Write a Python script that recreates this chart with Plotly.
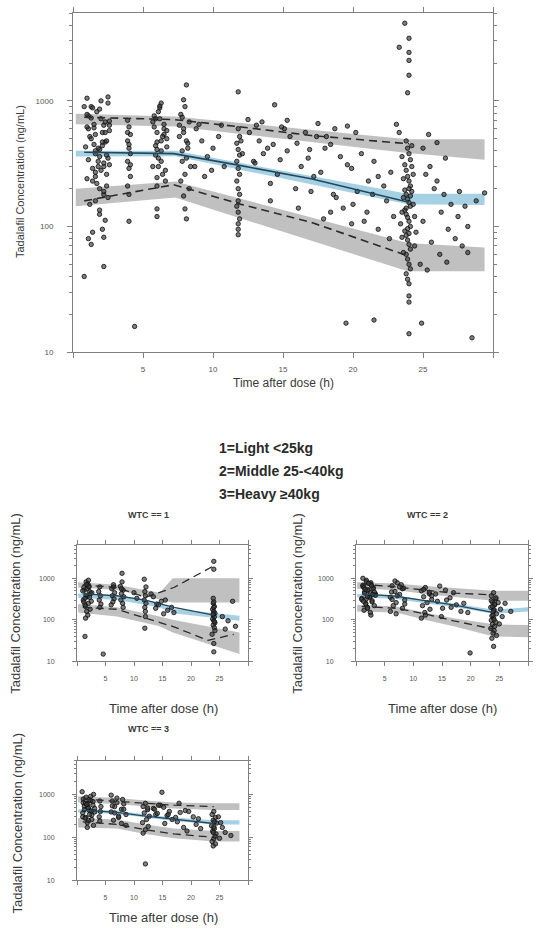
import plotly.graph_objects as go

# ---------------------------------------------------------------------------
# Observed tadalafil concentrations (time after dose in h, concentration ng/mL)
# ---------------------------------------------------------------------------
all_obs = [
    # ~1-2.5 h
    (1.7, 820), (2.2, 640), (1.2, 520), (1.9, 410), (2.5, 350), (1.4, 290), (2.0, 720), (1.1, 600),
    (2.3, 470), (1.6, 380), (1.8, 330), (2.4, 260), (1.3, 900), (2.1, 560), (1.5, 450), (2.6, 310),
    (1.0, 240), (1.9, 200), (2.2, 180), (1.6, 160), (1.7, 220), (2.2, 190), (1.2, 150), (1.9, 135),
    (2.5, 960), (1.4, 880), (2.0, 1000), (1.1, 760), (2.3, 680), (1.6, 540), (1.8, 420), (2.4, 370),
    (1.3, 500), (2.1, 440), (1.5, 610), (2.6, 690), (1.0, 780), (1.9, 860), (2.2, 300), (1.6, 250),
    (1.9, 125), (2.3, 112), (2.1, 95), (2.2, 82), (1.3, 72), (1.1, 80), (1.4, 90), (2.2, 48), (0.8, 40),
    (2.5, 170), (1.4, 230), (2.0, 280), (0.8, 900), (0.9, 430), (2.6, 640), (2.4, 480), (1.1, 340),
    (2.3, 560), (1.6, 400), (1.8, 300), (2.4, 210), (1.0, 1050), (2.5, 1075), (1.3, 730), (2.1, 470),
    (1.5, 650), (2.6, 580), (1.0, 620), (1.9, 360), (2.2, 320), (1.6, 270),
    # ~4 h
    (3.9, 700), (4.0, 620), (4.1, 540), (3.9, 480), (4.0, 420), (4.1, 380), (3.9, 330), (4.0, 290),
    (4.1, 250), (3.9, 210), (4.0, 180), (4.0, 450), (3.9, 560), (4.1, 310), (4.0, 110),
    # ~6 h
    (6.2, 880), (5.8, 760), (6.5, 650), (6.0, 560), (6.7, 500), (5.9, 440), (6.3, 400), (6.1, 350),
    (5.7, 300), (6.4, 260), (6.6, 230), (6.0, 210), (6.2, 720), (5.8, 620), (6.5, 540), (6.0, 470),
    (6.7, 430), (5.9, 370), (6.3, 330), (6.1, 820), (5.7, 680), (6.4, 520), (6.6, 280), (6.0, 245),
    (6.2, 910), (6.0, 138), (6.0, 120), (6.5, 600), (6.0, 410), (6.3, 960), (6.7, 580), (5.9, 720),
    (6.3, 480), (6.1, 300),
    # ~8 h
    (8.0, 900), (7.7, 780), (8.3, 680), (7.9, 600), (7.6, 520), (8.2, 460), (7.8, 400), (8.1, 350),
    (8.4, 300), (8.0, 260), (7.7, 230), (8.3, 200), (7.9, 560), (7.6, 640), (8.2, 420), (7.8, 740),
    (7.9, 1020), (8.1, 1340), (8.0, 138), (8.1, 115), (7.8, 330), (8.1, 480), (7.9, 175),
    (8.8, 600), (9.2, 480), (9.6, 360), (10.0, 420), (10.4, 520), (10.8, 300), (9.0, 650), (9.9, 280),
    (10.6, 640), (8.7, 300), (9.4, 250),
    # ~12 h
    (11.8, 600), (11.9, 520), (11.7, 460), (11.8, 410), (11.9, 370), (11.7, 330), (11.8, 290),
    (11.9, 260), (11.7, 230), (11.8, 200), (11.9, 180), (11.8, 160), (11.7, 145), (11.8, 130),
    (11.9, 115), (11.8, 105), (11.8, 95), (11.8, 86), (11.8, 1180), (12.0, 480), (12.1, 380),
    # 12.5-23 h
    (12.6, 560), (13.9, 420), (12.9, 330), (14.6, 260), (13.3, 480), (15.1, 600), (13.6, 380),
    (16.3, 300), (14.1, 220), (15.5, 520), (16.9, 410), (14.8, 340), (17.7, 270), (15.9, 200),
    (18.4, 450), (16.6, 560), (19.1, 360), (17.2, 250), (20.3, 190), (18.0, 420), (19.6, 310),
    (17.4, 520), (21.1, 230), (18.8, 170), (20.6, 380), (19.9, 290), (16.0, 460), (22.2, 210),
    (21.5, 330), (20.0, 150), (22.7, 270), (15.3, 400), (18.6, 180), (21.8, 250), (13.0, 320),
    (19.3, 140), (21.0, 130), (22.4, 160), (20.8, 110), (22.9, 120), (14.4, 930), (12.5, 710),
    (19.6, 630), (18.7, 600), (17.9, 115), (18.4, 130), (13.1, 640), (15.3, 700), (17.5, 660),
    (20.2, 560), (18.1, 520), (14.1, 160), (16.1, 140), (19.9, 105), (21.8, 95), (22.6, 80),
    (13.5, 680), (14.9, 620), (16.8, 350), (14.3, 450), (17.0, 190), (21.4, 180),
    # ~24 h
    (23.8, 480), (23.9, 420), (24.0, 380), (24.1, 340), (23.7, 310), (23.8, 280), (23.9, 250),
    (24.0, 230), (24.1, 210), (23.7, 195), (23.8, 180), (23.9, 165), (24.0, 155), (24.1, 145),
    (23.7, 135), (23.8, 125), (23.9, 118), (24.0, 110), (24.1, 100), (23.7, 92), (23.8, 85),
    (23.9, 78), (24.0, 72), (24.1, 66), (23.8, 60), (23.9, 55), (24.0, 50), (24.1, 46), (23.8, 42),
    (23.9, 38), (24.0, 35), (24.2, 300), (24.3, 260), (23.6, 240), (24.2, 190), (23.6, 170),
    (24.3, 150), (23.5, 130), (24.4, 120), (23.4, 105), (24.5, 90), (23.5, 82), (24.4, 70),
    (23.6, 62), (23.7, 4150), (24.0, 3150), (24.0, 2430), (24.0, 2100), (24.0, 1600), (23.9, 1160),
    (23.3, 2670), (23.1, 650), (23.3, 560), (24.0, 28), (24.0, 25), (24.2, 440), (23.5, 360),
    (24.0, 200), (23.8, 140), (24.1, 175), (23.9, 96), (24.0, 88),
    # 24.5-29.5 h
    (25.0, 420), (25.5, 300), (26.0, 230), (26.5, 180), (27.0, 150), (27.5, 120), (28.0, 145),
    (28.2, 100), (25.2, 260), (25.8, 200), (26.3, 130), (26.8, 95), (27.3, 80), (27.8, 70),
    (25.4, 540), (26.6, 350), (27.6, 190), (28.8, 160), (25.0, 110), (25.6, 75), (26.2, 60),
    (29.4, 185), (28.2, 62), (24.8, 50), (25.3, 45), (26.0, 465), (26.7, 52),
    # low values
    (4.4, 16), (19.5, 17), (21.5, 18), (24.0, 14), (24.9, 17), (28.5, 13),
]

wtc1_obs = [
    (1.6, 820), (2.1, 650), (1.3, 520), (2.4, 430), (1.8, 360), (1.1, 300), (2.0, 250), (1.5, 210),
    (2.3, 180), (1.7, 160), (1.9, 740), (1.2, 600), (2.2, 480), (1.6, 390), (1.4, 330), (2.5, 280),
    (1.8, 560), (2.0, 900), (1.4, 230), (1.9, 130), (1.4, 40), (1.7, 700), (2.2, 350), (1.5, 110),
    (2.6, 450), (1.2, 270), (2.1, 620), (1.0, 500),
    (4.0, 620), (3.8, 480), (4.1, 380), (3.9, 300), (4.2, 240), (4.0, 200), (4.6, 15),
    (6.4, 700), (6.1, 560), (6.6, 450), (6.2, 380), (6.5, 320), (6.3, 270), (6.0, 230), (6.4, 620),
    (7.9, 820), (7.6, 640), (8.1, 520), (7.8, 430), (8.2, 360), (7.7, 300), (8.0, 250), (7.9, 1320),
    (7.8, 560), (8.1, 200), (10.0, 450), (10.5, 330),
    (11.8, 950), (12.1, 620), (11.9, 480), (12.0, 380), (11.8, 300), (12.1, 250), (11.9, 200),
    (12.0, 160), (11.9, 63), (12.0, 120),
    (13.0, 420), (15.5, 300), (14.0, 240), (13.4, 360), (16.6, 200), (14.8, 280), (15.9, 170),
    (14.3, 230), (17.0, 150), (13.8, 190), (15.2, 140),
    (23.9, 250), (24.1, 210), (23.8, 180), (24.0, 160), (24.2, 145), (23.9, 130), (24.1, 118),
    (23.8, 105), (24.0, 95), (24.2, 85), (23.9, 75), (24.1, 65), (24.0, 2560), (24.0, 1650),
    (23.9, 330), (24.0, 270), (24.0, 27), (24.0, 17), (24.2, 55), (23.7, 45), (24.0, 200),
    (23.9, 140), (24.1, 90),
    (25.5, 120), (26.5, 95), (27.3, 280), (27.8, 70), (26.0, 60),
]

wtc2_obs = [
    (1.8, 900), (2.6, 780), (1.2, 680), (3.0, 600), (2.1, 530), (1.5, 470), (3.4, 420), (2.4, 370),
    (1.0, 330), (2.8, 290), (1.7, 250), (3.2, 220), (2.0, 200), (1.4, 170), (2.5, 150), (1.8, 820),
    (2.6, 720), (1.2, 640), (3.0, 560), (2.1, 500), (1.5, 440), (3.4, 390), (2.4, 350), (1.0, 310),
    (2.8, 270), (1.7, 240), (3.2, 470), (2.0, 190), (1.4, 600), (2.5, 450), (1.8, 320), (2.6, 130),
    (1.2, 1000), (2.2, 760), (1.6, 540), (2.9, 410), (1.3, 280), (2.7, 660), (2.0, 360),
    (7.2, 780), (6.3, 660), (8.1, 560), (6.8, 480), (7.6, 410), (6.0, 350), (8.5, 300), (7.0, 260),
    (6.5, 220), (7.9, 700), (8.3, 580), (6.2, 470), (7.2, 380), (6.3, 310), (8.1, 190), (6.8, 860),
    (7.6, 620), (6.0, 160), (8.5, 240), (7.0, 140),
    (12.1, 600), (11.4, 500), (12.8, 420), (11.8, 360), (13.2, 310), (12.4, 260), (11.6, 220),
    (12.9, 180), (12.0, 150), (12.1, 130), (11.4, 110), (12.8, 460), (11.8, 540), (13.2, 380),
    (15.6, 520), (13.9, 420), (16.4, 340), (14.2, 280), (17.5, 230), (15.1, 190), (18.3, 160),
    (14.6, 650), (17.0, 450), (15.8, 300), (18.8, 250), (16.6, 200), (19.5, 150), (14.9, 120),
    (19.9, 16),
    (24.0, 450), (23.6, 380), (24.4, 320), (23.8, 270), (24.2, 230), (23.5, 200), (24.1, 175),
    (23.9, 155), (24.5, 140), (23.7, 125), (24.0, 110), (23.6, 98), (24.4, 88), (23.8, 78),
    (24.2, 70), (23.5, 62), (24.1, 55), (23.9, 48), (24.5, 42), (23.7, 36), (24.0, 23), (23.6, 290),
    (24.4, 340), (23.8, 210), (24.0, 165), (24.2, 240), (23.9, 130), (24.1, 100),
    (24.8, 260), (25.2, 180), (25.5, 120), (25.0, 80), (26.0, 250), (27.0, 160),
]

wtc3_obs = [
    (0.9, 1150), (2.4, 900), (1.1, 780), (2.8, 680), (1.9, 600), (1.3, 530), (3.1, 470), (2.2, 420),
    (1.0, 370), (2.6, 330), (1.5, 290), (2.0, 250), (1.8, 220), (2.9, 190), (1.6, 860), (2.4, 720),
    (1.1, 640), (2.8, 560), (1.9, 500), (1.3, 440), (3.1, 390), (2.2, 340), (1.0, 300), (2.6, 260),
    (1.5, 620), (2.0, 480), (1.8, 170), (2.9, 1000), (2.1, 750), (1.7, 580), (2.5, 410), (1.4, 280),
    (4.0, 700), (4.2, 520), (4.1, 400), (3.9, 300), (4.0, 240),
    (7.0, 820), (6.2, 700), (8.2, 600), (6.6, 520), (7.8, 450), (6.0, 390), (8.6, 340), (7.3, 290),
    (6.4, 250), (8.0, 760), (7.0, 640), (6.2, 540), (8.2, 450), (6.6, 370), (7.8, 210), (6.0, 960),
    (8.6, 190), (7.3, 310),
    (12.0, 620), (11.6, 520), (12.4, 440), (11.8, 370), (12.7, 310), (12.2, 260), (11.5, 220),
    (12.5, 180), (12.0, 150), (11.6, 125), (12.4, 480), (12.0, 24),
    (14.6, 560), (13.4, 470), (16.2, 400), (14.9, 1120), (13.8, 340), (17.3, 290), (15.2, 500),
    (19.0, 420), (14.1, 360), (20.4, 300), (16.7, 260), (13.6, 450), (18.1, 380), (15.8, 320),
    (21.3, 270), (17.6, 230), (19.6, 400), (16.0, 340), (20.9, 200), (15.4, 210), (18.7, 170),
    (21.7, 160), (19.3, 140), (17.9, 620), (14.3, 560),
    (24.0, 400), (23.7, 340), (24.3, 290), (23.9, 250), (24.5, 215), (23.6, 185), (24.1, 160),
    (23.8, 140), (24.4, 120), (24.2, 105), (24.0, 92), (23.7, 80), (24.3, 70), (23.9, 63),
    (24.1, 230), (24.0, 175), (23.9, 130),
    (24.8, 300), (25.2, 220), (25.5, 170), (26.0, 130), (27.0, 110), (25.0, 95),
]

# ---------------------------------------------------------------------------
# Simulated prediction intervals (95% CI of the 5th / 50th / 95th percentiles)
# ---------------------------------------------------------------------------
all_pi_time = [0.2, 7.3, 23.9, 29.4]
all_p95_hi = [790, 750, 495, 495]
all_p95_lo = [650, 625, 385, 340]
all_p50_hi = [400, 400, 182, 182]
all_p50_lo = [360, 362, 150, 148]
all_p05_hi = [200, 228, 74, 68]
all_p05_lo = [145, 170, 44, 44]

wtc1_pi_time = [0.2, 7.0, 14.5, 16.8, 28.5]
wtc1_p95_hi = [800, 700, 450, 1000, 1000]
wtc1_p95_lo = [600, 520, 310, 260, 260]
wtc1_p50_hi = [430, 390, 260, 185, 125]
wtc1_p50_lo = [340, 300, 200, 145, 95]
wtc1_p05_hi = [240, 200, 120, 100, 50]
wtc1_p05_lo = [150, 120, 70, 50, 15]

wtc2_pi_time = [0.2, 7.0, 12.0, 17.0, 24.0, 30.0]
wtc2_p95_hi = [800, 750, 650, 580, 500, 500]
wtc2_p95_lo = [560, 520, 420, 360, 290, 290]
wtc2_p50_hi = [420, 380, 300, 250, 175, 200]
wtc2_p50_lo = [350, 320, 250, 205, 140, 160]
wtc2_p05_hi = [230, 210, 150, 110, 78, 75]
wtc2_p05_lo = [160, 150, 100, 70, 40, 38]

wtc3_pi_time = [0.2, 7.0, 12.0, 17.0, 24.0, 28.5]
wtc3_p95_hi = [900, 820, 720, 650, 620, 620]
wtc3_p95_lo = [650, 600, 520, 470, 430, 430]
wtc3_p50_hi = [450, 420, 340, 290, 250, 250]
wtc3_p50_lo = [380, 350, 290, 240, 200, 200]
wtc3_p05_hi = [280, 260, 200, 160, 140, 140]
wtc3_p05_lo = [170, 160, 120, 95, 80, 80]

# ---------------------------------------------------------------------------
# Observed percentiles per time bin
# ---------------------------------------------------------------------------
all_bin_time = [0.8, 7.2, 12.0, 17.0, 24.0]
all_q95 = [740, 710, 620, 530, 455]
all_q50 = [390, 380, 305, 240, 156]
all_q05 = [160, 215, 150, 108, 58]

wtc1_bin_time = [1.0, 7.0, 12.0, 17.0, 24.0]
wtc1_q95 = [700, 600, 350, 600, 2000]
wtc1_q50 = [420, 380, 300, 200, 130]
wtc1_q05_time = [1.0, 7.0, 12.0, 17.0, 23.0, 27.5]
wtc1_q05 = [200, 180, 110, 68, 32, 45]

wtc2_bin_time = [1.0, 7.0, 12.0, 17.0, 24.0]
wtc2_q95 = [720, 620, 520, 440, 400]
wtc2_q50 = [420, 370, 290, 230, 150]
wtc2_q05 = [210, 190, 140, 95, 60]

wtc3_bin_time = [1.0, 7.0, 12.0, 17.0, 24.0]
wtc3_q95 = [780, 700, 620, 560, 520]
wtc3_q50 = [430, 380, 310, 260, 210]
wtc3_q05 = [230, 200, 150, 120, 100]

x_tickvals = [0, 5, 10, 15, 20, 25, 30]
x_ticktext = ["", "5", "10", "15", "20", "25", ""]
y_tickvals = [10, 100, 1000]
y_ticktext = ["10", "100", "1000"]
y_minor = [v * m for m in (10, 100, 1000) for v in range(2, 10)]

legend_lines = ["1=Light <25kg", "2=Middle 25-<40kg", "3=Heavy \u226540kg"]

W, H = 537, 931
GREY_BAND = "rgba(192,192,192,1)"
BLUE_BAND = "rgba(166,208,228,1)"
MEDIAN_LINE = "#24475a"
PCT_LINE = "#2a2a2a"
AXIS = "#808080"
FONT = "Liberation Sans, Arial, sans-serif"


def band(t, hi, lo):
    return list(t) + list(t)[::-1], list(hi) + list(lo)[::-1]


def px_x(v):
    return v / W


def px_y(v):
    return 1 - v / H


fig = go.Figure()

panels = [
    # (axis suffix, obs, pi_time, p95, p50, p05, percentile lines, median line, marker size, line width)
    ("", all_obs, all_pi_time, (all_p95_hi, all_p95_lo), (all_p50_hi, all_p50_lo),
     (all_p05_hi, all_p05_lo),
     [(all_bin_time, all_q95), (all_bin_time, all_q05)], (all_bin_time, all_q50), 4.4, 1.6),
    ("2", wtc1_obs, wtc1_pi_time, (wtc1_p95_hi, wtc1_p95_lo), (wtc1_p50_hi, wtc1_p50_lo),
     (wtc1_p05_hi, wtc1_p05_lo),
     [(wtc1_bin_time, wtc1_q95), (wtc1_q05_time, wtc1_q05)], (wtc1_bin_time, wtc1_q50), 4.4, 1.3),
    ("3", wtc2_obs, wtc2_pi_time, (wtc2_p95_hi, wtc2_p95_lo), (wtc2_p50_hi, wtc2_p50_lo),
     (wtc2_p05_hi, wtc2_p05_lo),
     [(wtc2_bin_time, wtc2_q95), (wtc2_bin_time, wtc2_q05)], (wtc2_bin_time, wtc2_q50), 4.4, 1.3),
    ("4", wtc3_obs, wtc3_pi_time, (wtc3_p95_hi, wtc3_p95_lo), (wtc3_p50_hi, wtc3_p50_lo),
     (wtc3_p05_hi, wtc3_p05_lo),
     [(wtc3_bin_time, wtc3_q95), (wtc3_bin_time, wtc3_q05)], (wtc3_bin_time, wtc3_q50), 4.4, 1.3),
]

for sfx, obs, pt, p95, p50, p05, pct_lines, med_line, msize, lw in panels:
    xa, ya = "x" + sfx, "y" + sfx
    for (hi, lo), col in ((p95, GREY_BAND), (p05, GREY_BAND), (p50, BLUE_BAND)):
        bx, by = band(pt, hi, lo)
        fig.add_trace(go.Scatter(x=bx, y=by, xaxis=xa, yaxis=ya, mode="lines", fill="toself",
                                 fillcolor=col, line=dict(width=0), hoverinfo="skip"))
    fig.add_trace(go.Scatter(
        x=[p[0] for p in obs], y=[p[1] for p in obs], xaxis=xa, yaxis=ya, mode="markers",
        marker=dict(symbol="circle", size=msize, color="rgba(55,55,55,0.65)",
                    line=dict(width=0.9, color="rgba(15,15,15,0.9)"))))
    for lt, lv in pct_lines:
        fig.add_trace(go.Scatter(x=lt, y=lv, xaxis=xa, yaxis=ya, mode="lines",
                                 line=dict(color=PCT_LINE, width=lw, dash="8px,5px")))
    fig.add_trace(go.Scatter(x=med_line[0], y=med_line[1], xaxis=xa, yaxis=ya, mode="lines",
                             line=dict(color=MEDIAN_LINE, width=lw)))


def x_axis(domain, anchor, ticklen, fsize, standoff):
    return dict(domain=domain, anchor=anchor, range=[0, 30], tickmode="array",
                tickvals=x_tickvals, ticktext=x_ticktext, ticks="outside", ticklen=ticklen,
                tickwidth=1, tickcolor=AXIS, showline=True, linecolor=AXIS, linewidth=1,
                mirror="allticks", showgrid=False, zeroline=False,
                tickfont=dict(size=fsize, color="#555555", family=FONT),
                ticklabelstandoff=standoff)


def y_axis(domain, anchor, top, ticklen, fsize, standoff):
    return dict(domain=domain, anchor=anchor, type="log", range=[1, top], tickmode="array",
                tickvals=y_tickvals, ticktext=y_ticktext, ticks="outside", ticklen=ticklen,
                tickwidth=1, tickcolor=AXIS, showline=True, linecolor=AXIS, linewidth=1,
                mirror="allticks", showgrid=False, zeroline=False,
                minor=dict(tickmode="array", tickvals=y_minor, ticks="outside",
                           ticklen=max(2, ticklen - 2), tickcolor=AXIS, showgrid=False),
                tickfont=dict(size=fsize, color="#555555", family=FONT),
                ticklabelstandoff=standoff)


main_xd = [px_x(73), px_x(493)]
main_yd = [px_y(354), px_y(13)]
left_xd = [px_x(77), px_x(248)]
right_xd = [px_x(356), px_x(528)]
top_yd = [px_y(665), px_y(548)]
bot_yd = [px_y(885), px_y(765)]

fig.update_layout(
    width=W, height=H, margin=dict(l=0, r=0, t=0, b=0),
    paper_bgcolor="white", plot_bgcolor="white", showlegend=False,
    font=dict(family=FONT, color="#333333"),
    xaxis=x_axis(main_xd, "y", 5, 8, 4),
    yaxis=y_axis(main_yd, "x", 3.7, 5, 8, 12),
    xaxis2=x_axis(left_xd, "y2", 4, 7, 6),
    yaxis2=y_axis(top_yd, "x2", 3.8, 4, 7, 16),
    xaxis3=x_axis(right_xd, "y3", 4, 7, 6),
    yaxis3=y_axis(top_yd, "x3", 3.8, 4, 7, 16),
    xaxis4=x_axis(left_xd, "y4", 4, 7, 6),
    yaxis4=y_axis(bot_yd, "x4", 3.78, 4, 7, 16),
)

notes = [
    # main panel axis titles
    dict(text="Tadalafil Concentration (ng/mL)", x=px_x(20), y=px_y(183), textangle=-90, size=11),
    dict(text="Time after dose (h)", x=px_x(283), y=px_y(385), size=12),
    # sub panel titles
    dict(text="<b>WTC == 1</b>", x=px_x(148), y=px_y(518), size=9),
    dict(text="<b>WTC == 2</b>", x=px_x(427), y=px_y(518), size=9),
    dict(text="<b>WTC == 3</b>", x=px_x(148), y=px_y(733), size=9),
    # sub panel axis titles
    dict(text="Tadalafil Concentration (ng/mL)", x=px_x(16), y=px_y(607), textangle=-90, size=13),
    dict(text="Tadalafil Concentration (ng/mL)", x=px_x(298), y=px_y(607), textangle=-90, size=13),
    dict(text="Tadalafil Concentration (ng/mL)", x=px_x(18), y=px_y(828), textangle=-90, size=13),
    dict(text="Time after dose (h)", x=px_x(163), y=px_y(712), size=13),
    dict(text="Time after dose (h)", x=px_x(442), y=px_y(712), size=13),
    dict(text="Time after dose (h)", x=px_x(163), y=px_y(922), size=13),
]
for n in notes:
    fig.add_annotation(text=n["text"], x=n["x"], y=n["y"], xref="paper", yref="paper",
                       showarrow=False, textangle=n.get("textangle", 0),
                       xanchor="center", yanchor="middle",
                       font=dict(size=n["size"], color="#3a3a3a", family=FONT))

for i, line in enumerate(legend_lines):
    fig.add_annotation(text="<b>" + line + "</b>", x=px_x(217), y=px_y(450 + 23.5 * i),
                       xref="paper", yref="paper", showarrow=False, xanchor="left",
                       yanchor="middle", font=dict(size=14, color="#2a2a2a", family=FONT))

fig.write_html("out.html")
